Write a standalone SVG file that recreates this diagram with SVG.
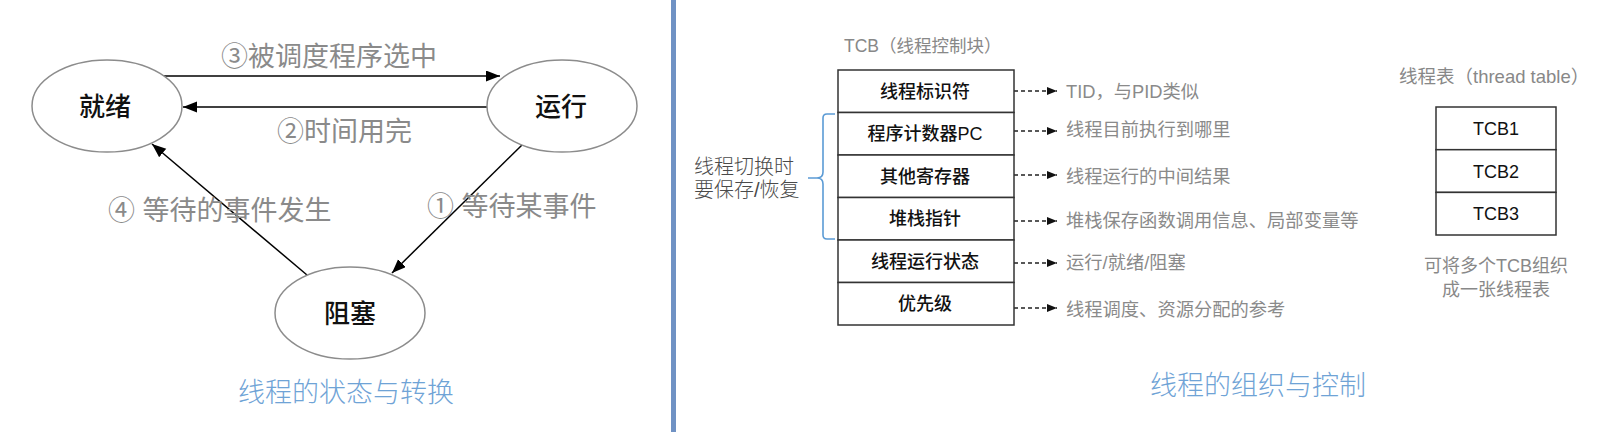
<svg xmlns="http://www.w3.org/2000/svg" width="1612" height="432" viewBox="0 0 1612 432">
<style>
  text { font-family: "Liberation Sans", "Noto Sans CJK SC", sans-serif; }
  .node { fill: #ffffff; stroke: #8c8c8c; stroke-width: 1.5; }
  .nlabel { font-size: 26px; fill: #111111; text-anchor: middle; font-weight: 500; }
  .elabel { font-size: 27px; fill: #8a8a8a; }
  .edge { stroke: #000000; stroke-width: 1.5; fill: none; }
  .dash { stroke: #222222; stroke-width: 1.3; fill: none; stroke-dasharray: 4 3; }
  .cell { fill: #ffffff; stroke: #333333; stroke-width: 1.5; }
  .clabel { font-size: 18px; fill: #111111; text-anchor: middle; font-weight: 500; }
  .desc { font-size: 18.3px; fill: #8a8a8a; }
  .note { font-size: 18px; fill: #888888; }
  .title { font-size: 27px; fill: #6fa3d6; text-anchor: middle; font-weight: 300; }
</style>
<defs>
  <marker id="ah" markerUnits="userSpaceOnUse" markerWidth="15" markerHeight="12" refX="14" refY="5.5" orient="auto">
    <path d="M0,0 L14,5.5 L0,11 z" fill="#000000"/>
  </marker>
  <marker id="ahs" markerUnits="userSpaceOnUse" markerWidth="11" markerHeight="9" refX="10" refY="4" orient="auto">
    <path d="M0,0 L10,4 L0,8 z" fill="#111111"/>
  </marker>
</defs>
<rect x="0" y="0" width="1612" height="432" fill="#ffffff"/>
<rect x="671" y="0" width="5" height="432" fill="#7092c4"/>

<!-- left: states -->
<g id="connectors">
  <line class="edge" x1="163" y1="76" x2="500" y2="76" marker-end="url(#ah)"/>
  <line class="edge" x1="487" y1="107" x2="183" y2="107" marker-end="url(#ah)"/>
  <line class="edge" x1="522" y1="145" x2="392" y2="273" marker-end="url(#ah)"/>
  <line class="edge" x1="307" y1="275" x2="152" y2="144" marker-end="url(#ah)"/>
  <line class="dash" x1="1014" y1="91" x2="1057" y2="91" marker-end="url(#ahs)"/>
  <line class="dash" x1="1014" y1="131" x2="1057" y2="131" marker-end="url(#ahs)"/>
  <line class="dash" x1="1014" y1="175" x2="1057" y2="175" marker-end="url(#ahs)"/>
  <line class="dash" x1="1014" y1="221" x2="1057" y2="221" marker-end="url(#ahs)"/>
  <line class="dash" x1="1014" y1="263" x2="1057" y2="263" marker-end="url(#ahs)"/>
  <line class="dash" x1="1014" y1="308" x2="1057" y2="308" marker-end="url(#ahs)"/>
</g>
<g id="edge-labels">
  <text class="elabel" x="221" y="66">③被调度程序选中</text>
  <text class="elabel" x="277" y="141">②时间用完</text>
  <text class="elabel" x="427" y="216">① 等待某事件</text>
  <text class="elabel" x="108" y="220">④ 等待的事件发生</text>
</g>
<g id="node-ready">
  <ellipse class="node" cx="107" cy="106" rx="75" ry="46"/>
  <text class="nlabel" x="105" y="116">就绪</text>
</g>
<g id="node-running">
  <ellipse class="node" cx="562" cy="106" rx="75" ry="46"/>
  <text class="nlabel" x="561" y="116">运行</text>
</g>
<g id="node-blocked">
  <ellipse class="node" cx="350" cy="313" rx="75" ry="46"/>
  <text class="nlabel" x="350" y="323">阻塞</text>
</g>
<text class="title" x="346" y="402">线程的状态与转换</text>

<!-- middle: TCB -->
<text class="note" x="844" y="52" style="font-size:17.5px">TCB（线程控制块）</text>
<g id="tcb">
  <rect class="cell" x="838" y="70" width="176" height="42.5"/>
  <rect class="cell" x="838" y="112.5" width="176" height="42.5"/>
  <rect class="cell" x="838" y="155" width="176" height="42.5"/>
  <rect class="cell" x="838" y="197.5" width="176" height="42.5"/>
  <rect class="cell" x="838" y="240" width="176" height="42.5"/>
  <rect class="cell" x="838" y="282.5" width="176" height="42.5"/>
  <text class="clabel" x="925" y="98">线程标识符</text>
  <text class="clabel" x="925" y="140">程序计数器PC</text>
  <text class="clabel" x="925" y="183">其他寄存器</text>
  <text class="clabel" x="925" y="225">堆栈指针</text>
  <text class="clabel" x="925" y="268">线程运行状态</text>
  <text class="clabel" x="925" y="310">优先级</text>
</g>
<g id="brace">
  <path d="M835,114 L827,114 Q823,114 823,118 L823,172 Q823,178 817,178 L808,178 M817,178 Q823,178 823,184 L823,235 Q823,239 827,239 L835,239" fill="none" stroke="#5b9bd5" stroke-width="1.6"/>
  <text class="note" x="694" y="174" style="font-size:20px;fill:#4a4a4a;font-weight:300">线程切换时</text>
  <text class="note" x="694" y="197" style="font-size:20px;fill:#4a4a4a;font-weight:300">要保存/恢复</text>
</g>
<g id="descriptions">
  <text class="desc" x="1066" y="97.5">TID，与PID类似</text>
  <text class="desc" x="1066" y="136">线程目前执行到哪里</text>
  <text class="desc" x="1066" y="182.5">线程运行的中间结果</text>
  <text class="desc" x="1066" y="227">堆栈保存函数调用信息、局部变量等</text>
  <text class="desc" x="1066" y="269">运行/就绪/阻塞</text>
  <text class="desc" x="1066" y="316">线程调度、资源分配的参考</text>
</g>
<text class="title" x="1258" y="395">线程的组织与控制</text>

<!-- right: thread table -->
<text class="note" x="1399" y="83" style="font-size:18.5px">线程表（thread table）</text>
<g id="thread-table">
  <rect class="cell" x="1436" y="107" width="120" height="42.7"/>
  <rect class="cell" x="1436" y="149.7" width="120" height="42.7"/>
  <rect class="cell" x="1436" y="192.4" width="120" height="42.6"/>
  <text class="clabel" x="1496" y="134.5" style="font-weight:400">TCB1</text>
  <text class="clabel" x="1496" y="177.5" style="font-weight:400">TCB2</text>
  <text class="clabel" x="1496" y="220" style="font-weight:400">TCB3</text>
</g>
<g id="table-note">
  <text class="note" x="1496" y="272" text-anchor="middle">可将多个TCB组织</text>
  <text class="note" x="1496" y="296" text-anchor="middle">成一张线程表</text>
</g>
</svg>
